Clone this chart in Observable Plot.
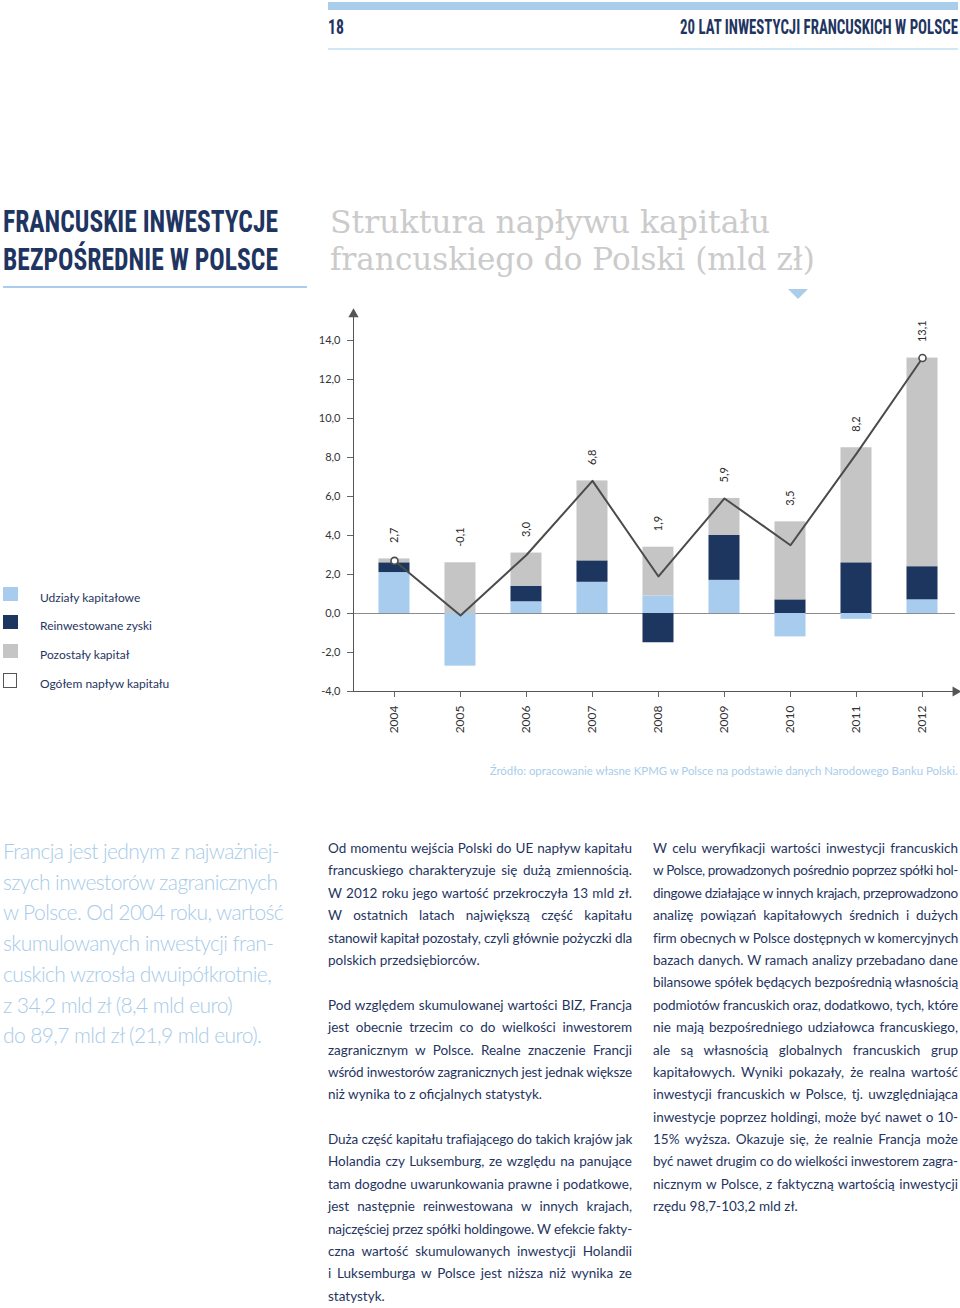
<!DOCTYPE html>
<html><head><meta charset="utf-8">
<script src="https://cdn.jsdelivr.net/npm/d3@7"></script>
<script src="https://cdn.jsdelivr.net/npm/@observablehq/plot@0.6"></script>
<style>
html,body{margin:0;padding:0;background:#fff;}
#page{position:relative;width:960px;height:1308px;overflow:hidden;font-family:Lato,"Open Sans",sans-serif;}
.abs{position:absolute;white-space:nowrap;}
.fit{display:inline-block;}
.hd{font-family:"Roboto Condensed","DejaVu Sans Condensed","Liberation Sans Narrow",Roboto,sans-serif;font-weight:700;color:#1f3561;}
.sub{font-family:"DejaVu Serif",serif;color:#cbcbcb;font-size:31px;line-height:36px;}
.lead{position:absolute;left:3px;top:836px;font-family:Lato,sans-serif;font-weight:300;font-size:21px;line-height:30.7px;color:#a7cbe9;white-space:nowrap;}
.col{position:absolute;top:837px;font-family:Lato,sans-serif;font-size:13.5px;line-height:22.4px;color:#1f3561;}
.ln{white-space:nowrap;height:22.4px;}
.ln.j{text-align:justify;text-align-last:justify;}
.leg{position:absolute;left:40px;font-size:12px;color:#1f3561;white-space:nowrap;line-height:16px;}
.sw{position:absolute;left:3px;width:15px;height:14px;}
</style></head><body><div id="page">
  <div class="abs" style="left:328px;top:2px;width:630px;height:8px;background:#a9cdea;"></div>
  <span class="abs hd fit" id="pg" style="left:328px;top:15px;font-size:20px;line-height:24px;">18</span>
  <span class="abs hd fit" id="rh" style="right:2px;top:15px;font-size:20px;line-height:24px;">20 LAT INWESTYCJI FRANCUSKICH W POLSCE</span>
  <div class="abs" style="left:328px;top:48px;width:630px;height:1.5px;background:#d3e6f4;"></div>

  <span class="abs hd fit" id="t1" style="left:3px;top:202px;font-size:32px;line-height:38px;">FRANCUSKIE INWESTYCJE</span>
  <span class="abs hd fit" id="t2" style="left:3px;top:240px;font-size:32px;line-height:38px;">BEZPOŚREDNIE W POLSCE</span>
  <div class="abs" style="left:3px;top:286px;width:304px;height:2px;background:#a9cdea;"></div>

  <span class="abs sub fit" id="s1" style="left:330px;top:204px;">Struktura napływu kapitału</span>
  <span class="abs sub fit" id="s2" style="left:330px;top:241px;">francuskiego do Polski (mld zł)</span>
  <div class="abs" style="left:788px;top:289px;width:0;height:0;border-left:10px solid transparent;border-right:10px solid transparent;border-top:10px solid #a9cdea;"></div>

  <div id="legend"></div>
  <div id="chart" class="abs" style="left:300px;top:300px;"></div>
  <span class="abs fit" id="src" style="right:2px;top:763px;font-size:11.5px;line-height:16px;color:#a9cdea;">Źródło: opracowanie własne KPMG w Polsce na podstawie danych Narodowego Banku Polski.</span>

  <div class="lead" id="lead"></div>
  <div class="col" id="col2" style="left:328px;width:304px;"></div>
  <div class="col" id="col3" style="left:653px;width:305px;"></div>
</div>
<script>
// ---- chart data ----
const years = [2004, 2005, 2006, 2007, 2008, 2009, 2010, 2011, 2012];
const udzialyKapitalowe = [2.1, -2.7, 0.6, 1.6, 0.9, 1.7, -1.2, -0.3, 0.7];
const reinwestowaneZyski = [0.5, 0.0, 0.8, 1.1, -1.5, 2.3, 0.7, 2.6, 1.7];
const pozostalyKapital = [0.2, 2.6, 1.7, 4.1, 2.5, 1.9, 4.0, 5.9, 10.7];
const ogolemNaplyw = [2.7, -0.1, 3.0, 6.8, 1.9, 5.9, 3.5, 8.2, 13.1];
const seriesLabels = ["Udziały kapitałowe", "Reinwestowane zyski", "Pozostały kapitał"];
const totalLabel = "Ogółem napływ kapitału";
const yTickValues = [-4, -2, 0, 2, 4, 6, 8, 10, 12, 14];

const seriesColors = ["#a7ccee", "#1d365f", "#c5c5c5"];
const seriesValues = [udzialyKapitalowe, reinwestowaneZyski, pozostalyKapital];

// stacked table (positive up, negative down)
const stacked = [];
const tops = [];
years.forEach((year, i) => {
  let pos = 0, neg = 0;
  seriesValues.forEach((vals, s) => {
    const v = vals[i];
    if (v >= 0) { stacked.push({year, series: seriesLabels[s], y1: pos, y2: pos + v}); pos += v; }
    else { stacked.push({year, series: seriesLabels[s], y1: neg, y2: neg + v}); neg += v; }
  });
  tops.push(pos);
});
const totals = years.map((year, i) => ({year, total: ogolemNaplyw[i], top: tops[i]}));

const X0 = 2003.379, X1 = 2012.5, HALF = 0.235;
const fmt = d => d.toFixed(1).replace(".", ",");

const chart = Plot.plot({
  width: 660, height: 450,
  marginLeft: 53, marginRight: 5, marginTop: 40, marginBottom: 59,
  x: {type: "linear", domain: [X0, X1]},
  y: {domain: [-4, 14]},
  color: {domain: seriesLabels, range: seriesColors},
  style: {fontFamily: "Lato, sans-serif", background: "transparent", overflow: "visible", color: "#333"},
  marks: [
    Plot.ruleY([0], {stroke: "#8c8c8c", strokeWidth: 1}),
    Plot.rect(stacked, {x1: d => d.year - HALF, x2: d => d.year + HALF, y1: "y1", y2: "y2", fill: "series"}),
    Plot.line(totals, {x: "year", y: "total", stroke: "#4b4b4b", strokeWidth: 2}),
    Plot.dot([totals[0], totals[totals.length - 1]], {x: "year", y: "total", r: 3.5, fill: "white", stroke: "#4b4b4b", strokeWidth: 1.6}),
    Plot.text(totals, {x: "year", y: "top", text: d => fmt(d.total), rotate: -90, textAnchor: "start", dy: -16, fontSize: 11, fill: "#2b2b2b"}),
    Plot.axisY({ticks: yTickValues, tickFormat: fmt, tickSize: 6, tickPadding: 7, fontSize: 11, stroke: "#666", fill: "#333"}),
    Plot.axisX({ticks: years, tickFormat: d => String(d), tickRotate: -90, tickSize: 6, tickPadding: 8, fontSize: 12, stroke: "#666", fill: "#333"}),
    Plot.ruleY([-4], {stroke: "#555"}),
    Plot.ruleX([{x: X0}], {x: "x", y1: -4, y2: 15.4, stroke: "#555"}),
    Plot.dot([{x: X0, y: 15.35}], {x: "x", y: "y", symbol: "triangle", r: 3.8, fill: "#555"}),
    Plot.dot([{x: X1, y: -4}], {x: "x", y: "y", symbol: "triangle", rotate: 90, r: 3.8, fill: "#555"})
  ]
});
document.getElementById("chart").appendChild(chart);

// ---- legend ----
const legend = document.getElementById("legend");
const legTops = [587, 615, 644, 673];
const legItems = seriesLabels.map((s, i) => ({label: s, color: seriesColors[i]})).concat([{label: totalLabel, color: null}]);
legItems.forEach((it, i) => {
  const sw = document.createElement("div");
  sw.className = "sw";
  sw.style.top = legTops[i] + "px";
  if (it.color) sw.style.background = it.color;
  else { sw.style.border = "1.5px solid #555"; sw.style.width = "12px"; sw.style.height = "13px"; sw.style.background = "#fff"; }
  legend.appendChild(sw);
  const lb = document.createElement("div");
  lb.className = "leg";
  lb.style.top = (legTops[i] + 3) + "px";
  lb.textContent = it.label;
  legend.appendChild(lb);
});

// ---- text blocks ----
const leadLines = [
  "Francja jest jednym z najważniej-",
  "szych inwestorów zagranicznych",
  "w Polsce. Od 2004 roku, wartość",
  "skumulowanych inwestycji fran-",
  "cuskich wzrosła dwuipółkrotnie,",
  "z 34,2 mld zł (8,4 mld euro)",
  "do 89,7 mld zł (21,9 mld euro)."
];
const col2 = [
  ["Od momentu wejścia Polski do UE napływ kapitału",
   "francuskiego charakteryzuje się dużą zmiennością.",
   "W 2012 roku jego wartość przekroczyła 13 mld zł.",
   "W ostatnich latach największą część kapitału",
   "stanowił kapitał pozostały, czyli głównie pożyczki dla",
   "polskich przedsiębiorców."],
  ["Pod względem skumulowanej wartości BIZ, Francja",
   "jest obecnie trzecim co do wielkości inwestorem",
   "zagranicznym w Polsce. Realne znaczenie Francji",
   "wśród inwestorów zagranicznych jest jednak większe",
   "niż wynika to z oficjalnych statystyk."],
  ["Duża część kapitału trafiającego do takich krajów jak",
   "Holandia czy Luksemburg, ze względu na panujące",
   "tam dogodne uwarunkowania prawne i podatkowe,",
   "jest następnie reinwestowana w innych krajach,",
   "najczęściej przez spółki holdingowe. W efekcie fakty-",
   "czna wartość skumulowanych inwestycji Holandii",
   "i Luksemburga w Polsce jest niższa niż wynika ze",
   "statystyk."]
];
const col3 = [
  ["W celu weryfikacji wartości inwestycji francuskich",
   "w Polsce, prowadzonych pośrednio poprzez spółki hol-",
   "dingowe działające w innych krajach, przeprowadzono",
   "analizę powiązań kapitałowych średnich i dużych",
   "firm obecnych w Polsce dostępnych w komercyjnych",
   "bazach danych. W ramach analizy przebadano dane",
   "bilansowe spółek będących bezpośrednią własnością",
   "podmiotów francuskich oraz, dodatkowo, tych, które",
   "nie mają bezpośredniego udziałowca francuskiego,",
   "ale są własnością globalnych francuskich grup",
   "kapitałowych. Wyniki pokazały, że realna wartość",
   "inwestycji francuskich w Polsce, tj. uwzględniająca",
   "inwestycje poprzez holdingi, może być nawet o 10-",
   "15% wyższa. Okazuje się, że realnie Francja może",
   "być nawet drugim co do wielkości inwestorem zagra-",
   "nicznym w Polsce, z faktyczną wartością inwestycji",
   "rzędu 98,7-103,2 mld zł."]
];

const leadEl = document.getElementById("lead");
const leadSpans = leadLines.map(t => {
  const d = document.createElement("div");
  const s = document.createElement("span");
  s.textContent = t; d.appendChild(s); leadEl.appendChild(d); return s;
});
// tighten lead letter-spacing so line 2 spans ~275px
{
  const w = leadSpans[1].getBoundingClientRect().width;
  const ls = (275 - w) / (leadLines[1].length - 1);
  leadEl.style.letterSpacing = ls.toFixed(3) + "px";
}

function fillCol(el, paras, width) {
  paras.forEach((p, pi) => {
    if (pi > 0) { const b = document.createElement("div"); b.className = "ln"; el.appendChild(b); }
    p.forEach((t, li) => {
      const d = document.createElement("div");
      d.className = "ln";
      const s = document.createElement("span");
      s.textContent = t; d.appendChild(s); el.appendChild(d);
      const w = s.getBoundingClientRect().width;
      if (w > width) d.style.letterSpacing = ((width - w) / (t.length - 1)).toFixed(3) + "px";
      if (li < p.length - 1) d.classList.add("j");
    });
  });
}
fillCol(document.getElementById("col2"), col2, 304);
fillCol(document.getElementById("col3"), col3, 305);

// ---- fit headings horizontally ----
function fitW(id, target, origin) {
  const el = document.getElementById(id);
  const w = el.getBoundingClientRect().width;
  el.style.transformOrigin = origin;
  el.style.transform = `scaleX(${(target / w).toFixed(4)})`;
}
fitW("pg", 16, "left center");
fitW("rh", 278, "right center");
fitW("t1", 275, "left center");
fitW("t2", 275, "left center");
fitW("s1", 440, "left center");
fitW("s2", 485, "left center");
fitW("src", 468, "right center");
</script></body></html>
